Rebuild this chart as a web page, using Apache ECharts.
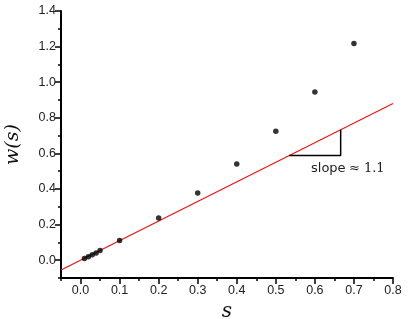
<!DOCTYPE html>
<html><head><meta charset="utf-8">
<script src="https://cdn.jsdelivr.net/npm/echarts@6/dist/echarts.min.js"></script>
<style>html,body{margin:0;padding:0;background:#fff}#c{width:411px;height:319px}</style>
</head><body><div id="c"></div>
<script>
const sValues = [0.01, 0.02, 0.03, 0.04, 0.05, 0.1, 0.2, 0.3, 0.4, 0.5, 0.6, 0.7];
const wValues = [0.01, 0.02, 0.03, 0.04, 0.055, 0.11, 0.237, 0.378, 0.54, 0.725, 0.945, 1.217];
const fitX = [-0.05, 0.8];
const fitY = [-0.055, 0.88];
const triX = [0.534, 0.666, 0.666];
const triY = [0.588, 0.588, 0.733];
const xTicks = [0, 0.1, 0.2, 0.3, 0.4, 0.5, 0.6, 0.7, 0.8];
const yTicks = [0, 0.2, 0.4, 0.6, 0.8, 1.0, 1.2, 1.4];

const chart = echarts.init(document.getElementById('c'));
const lab = {fontFamily: 'Liberation Sans, Arial', fontSize: 12.5, color: '#222'};
chart.setOption({
  animation: false,
  grid: {left: 61, right: 18, top: 11, bottom: 41, containLabel: false, outerBoundsMode: 'none'},
  xAxis: [
    {type: 'value', min: -0.05, max: 0.8, interval: 0.05, position: 'bottom',
     axisLine: {show: true, onZero: false, lineStyle: {color: '#000', width: 2}},
     axisTick: {show: true, length: 3, lineStyle: {color: '#000', width: 1.5}},
     axisLabel: {show: false}, splitLine: {show: false},
     name: 's', nameLocation: 'middle', nameGap: 24,
     nameTextStyle: {fontFamily: 'DejaVu Serif', fontStyle: 'italic', fontSize: 20, color: '#111'}},
    {type: 'value', min: -0.05, max: 0.8, position: 'bottom',
     axisLine: {show: false, onZero: false},
     axisTick: {show: true, length: 6, customValues: xTicks, lineStyle: {color: '#000', width: 1.5}},
     axisLabel: Object.assign({customValues: xTicks, margin: 6, formatter: v => v.toFixed(1)}, lab),
     splitLine: {show: false}}
  ],
  yAxis: [
    {type: 'value', min: -0.1, max: 1.4, interval: 0.1, position: 'left',
     axisLine: {show: true, onZero: false, lineStyle: {color: '#000', width: 2}},
     axisTick: {show: true, length: 3, lineStyle: {color: '#000', width: 1.5}},
     axisLabel: {show: false}, splitLine: {show: false},
     name: 'w(s)', nameLocation: 'middle', nameGap: 38, nameRotate: 90,
     nameTextStyle: {fontFamily: 'DejaVu Serif', fontStyle: 'italic', fontSize: 19, color: '#111'}},
    {type: 'value', min: -0.1, max: 1.4, position: 'left',
     axisLine: {show: false, onZero: false},
     axisTick: {show: true, length: 6, customValues: yTicks, lineStyle: {color: '#000', width: 1.5}},
     axisLabel: Object.assign({customValues: yTicks, margin: 5, formatter: v => v.toFixed(1)}, lab),
     splitLine: {show: false}}
  ],
  series: [
    {type: 'line', data: fitX.map((x, i) => [x, fitY[i]]), symbol: 'none',
     lineStyle: {color: '#ee1111', width: 1.2}, z: 2},
    {type: 'line', data: triX.map((x, i) => [x, triY[i]]), symbol: 'none',
     lineStyle: {color: '#000', width: 1.5}, z: 3},
    {type: 'scatter', data: sValues.map((x, i) => [x, wValues[i]]), symbolSize: 5.5,
     itemStyle: {color: '#000'}, z: 4}
  ],
  graphic: [
    {type: 'text', left: 311, top: 162,
     style: {text: '{a|slope} {b|≈ 1.1}',
       rich: {a: {fontFamily: 'DejaVu Sans', fontSize: 13, fill: '#222', color: '#222'},
              b: {fontFamily: 'DejaVu Serif', fontSize: 13, fill: '#222', color: '#222'}}}}
  ]
});
</script></body></html>
